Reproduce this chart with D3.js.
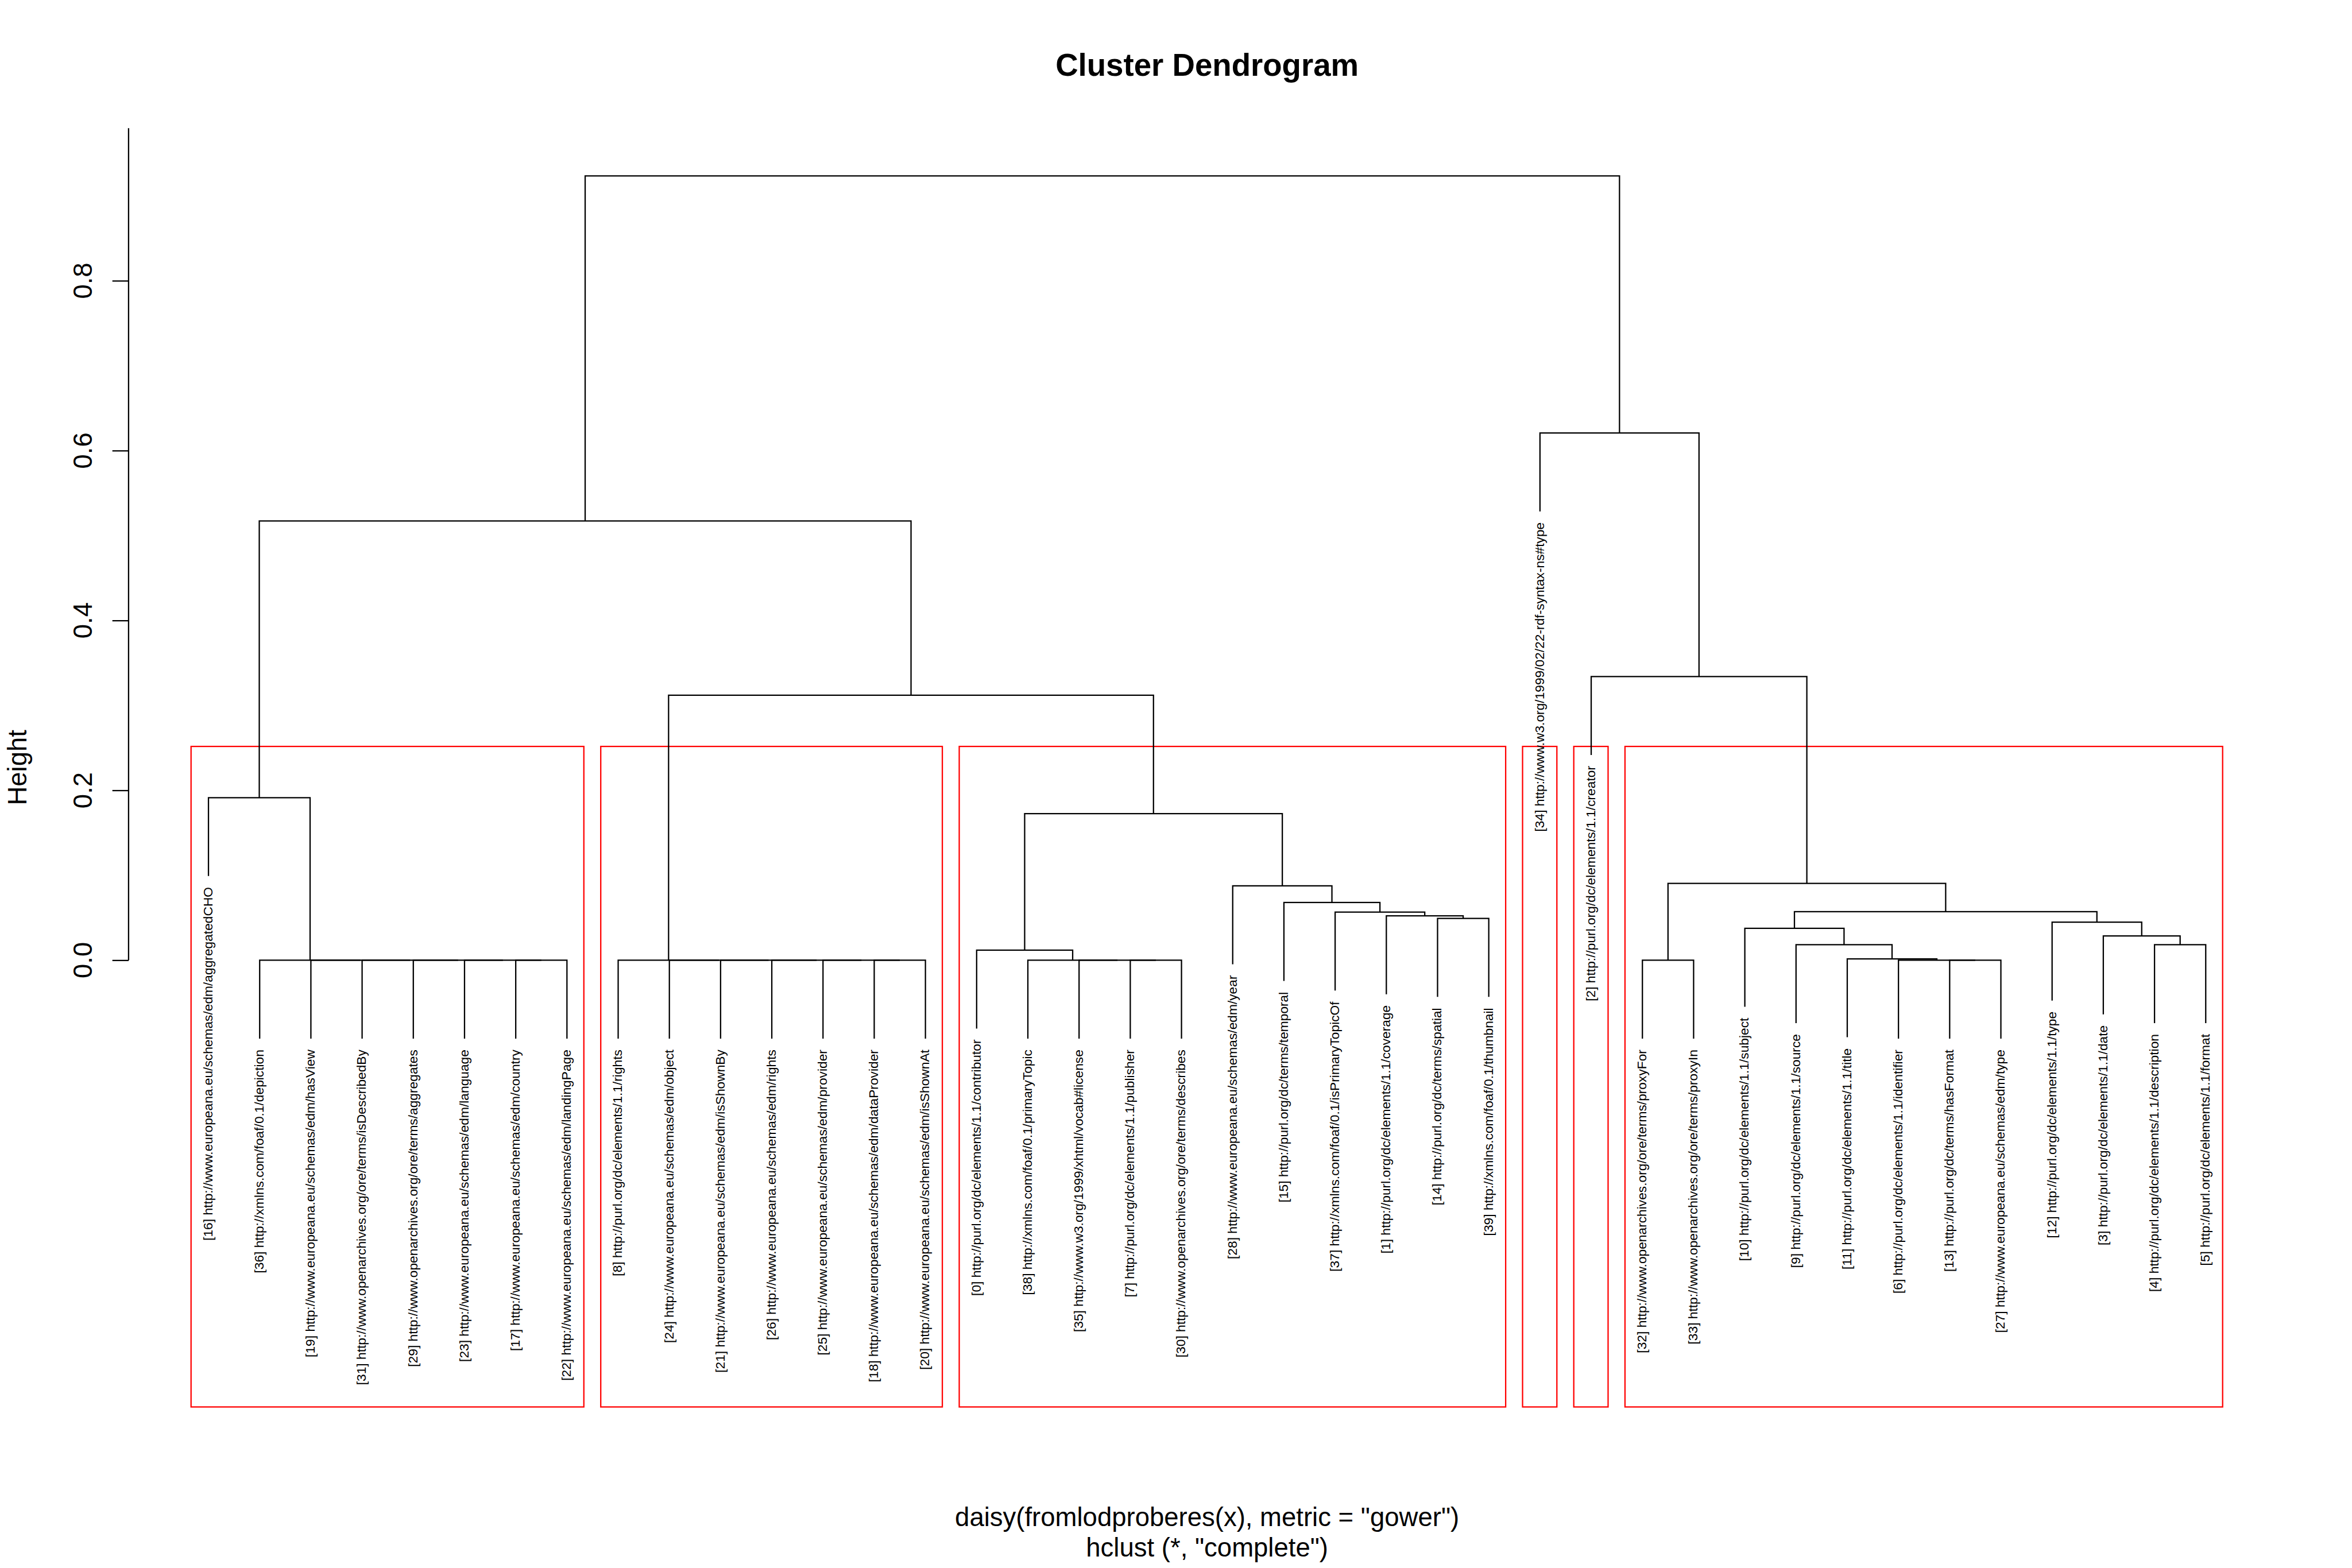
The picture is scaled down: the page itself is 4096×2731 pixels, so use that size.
<!DOCTYPE html>
<html><head><meta charset="utf-8">
<script src="https://cdn.jsdelivr.net/npm/d3@7"></script>
<style>body{margin:0;background:#fff}svg{display:block}</style>
</head><body>
<script>
// ---------- data ----------
const leafLabels = [
"[16] http://www.europeana.eu/schemas/edm/aggregatedCHO",
"[36] http://xmlns.com/foaf/0.1/depiction",
"[19] http://www.europeana.eu/schemas/edm/hasView",
"[31] http://www.openarchives.org/ore/terms/isDescribedBy",
"[29] http://www.openarchives.org/ore/terms/aggregates",
"[23] http://www.europeana.eu/schemas/edm/language",
"[17] http://www.europeana.eu/schemas/edm/country",
"[22] http://www.europeana.eu/schemas/edm/landingPage",
"[8] http://purl.org/dc/elements/1.1/rights",
"[24] http://www.europeana.eu/schemas/edm/object",
"[21] http://www.europeana.eu/schemas/edm/isShownBy",
"[26] http://www.europeana.eu/schemas/edm/rights",
"[25] http://www.europeana.eu/schemas/edm/provider",
"[18] http://www.europeana.eu/schemas/edm/dataProvider",
"[20] http://www.europeana.eu/schemas/edm/isShownAt",
"[0] http://purl.org/dc/elements/1.1/contributor",
"[38] http://xmlns.com/foaf/0.1/primaryTopic",
"[35] http://www.w3.org/1999/xhtml/vocab#license",
"[7] http://purl.org/dc/elements/1.1/publisher",
"[30] http://www.openarchives.org/ore/terms/describes",
"[28] http://www.europeana.eu/schemas/edm/year",
"[15] http://purl.org/dc/terms/temporal",
"[37] http://xmlns.com/foaf/0.1/isPrimaryTopicOf",
"[1] http://purl.org/dc/elements/1.1/coverage",
"[14] http://purl.org/dc/terms/spatial",
"[39] http://xmlns.com/foaf/0.1/thumbnail",
"[34] http://www.w3.org/1999/02/22-rdf-syntax-ns#type",
"[2] http://purl.org/dc/elements/1.1/creator",
"[32] http://www.openarchives.org/ore/terms/proxyFor",
"[33] http://www.openarchives.org/ore/terms/proxyIn",
"[10] http://purl.org/dc/elements/1.1/subject",
"[9] http://purl.org/dc/elements/1.1/source",
"[11] http://purl.org/dc/elements/1.1/title",
"[6] http://purl.org/dc/elements/1.1/identifier",
"[13] http://purl.org/dc/terms/hasFormat",
"[27] http://www.europeana.eu/schemas/edm/type",
"[12] http://purl.org/dc/elements/1.1/type",
"[3] http://purl.org/dc/elements/1.1/date",
"[4] http://purl.org/dc/elements/1.1/description",
"[5] http://purl.org/dc/elements/1.1/format"
];
// merges: negative = leaf (1-based display position), positive = earlier merge (1-based)
const mergeLeft  = [-7,-6,-5,-4,-3,-2,-1, -14,-13,-12,-11,-10,-9, -19,-18,-17,-16, -25,-24,-23,-22,-21, 17, 13, 7, -29,-35,-34,-33,-32,-31,-39,-38,-37, 31, 26, -28, -27, 25];
const mergeRight = [-8, 1, 2, 3, 4, 5, 6, -15,  8,  9, 10, 11,12, -20, 14, 15, 16, -26, 18, 19, 20, 21, 22, 23, 24, -30,-36, 27, 28, 29, 30,-40, 32, 33, 34, 35,  36,  37, 38];
const mergeHeight= [0,0,0,0,0,0,0.1914, 0,0,0,0,0,0, 0,0,0,0.0119, 0.0492,0.0523,0.0566,0.0679,0.0876, 0.1725, 0.3120, 0.5171, 0,0,0,0.0016,0.0183,0.0375,0.0183,0.0286,0.0448, 0.0571, 0.0905, 0.3340, 0.6208, 0.9234];
const tickValues = [0, 0.2, 0.4, 0.6, 0.8];
const tickLabels = ["0.0", "0.2", "0.4", "0.6", "0.8"];
const yRange = [-0.526, 0.9797];
const kGroups = 6;
const titleText = "Cluster Dendrogram";
const yLabelText = "Height";
const subLines = ['daisy(fromlodproberes(x), metric = "gower")', 'hclust (*, "complete")'];

// ---------- layout ----------
const W = 4500, H = 3000;
const FONT = "'Liberation Sans', Arial, Helvetica, sans-serif";
const LW = 2.5;
const svg = d3.select("body").append("svg")
  .attr("width", 4096).attr("height", 2731)
  .attr("viewBox", `0 0 ${W} ${H}`);
svg.append("rect").attr("width", W).attr("height", H).attr("fill", "#fff");

const plot = {left: 246, right: 4373, top: 245, bottom: 2692};
const n = leafLabels.length;
const x = d3.scaleLinear().domain([1 - 0.04 * (n - 1), n + 0.04 * (n - 1)]).range([plot.left, plot.right]);
const y = d3.scaleLinear().domain(yRange).range([plot.bottom, plot.top]);
const hang = 0.1 * (d3.max(mergeHeight) - d3.min(mergeHeight));

// compute node positions
const nodeX = [], leafEnd = new Array(n + 1), leafRange = [];
const segs = [];
mergeHeight.forEach((h, i) => {
  const info = c => {
    if (c < 0) { leafEnd[-c] = h - hang; return {x: -c, top: h - hang, lo: -c, hi: -c}; }
    return {x: nodeX[c - 1], top: mergeHeight[c - 1], lo: leafRange[c - 1][0], hi: leafRange[c - 1][1]};
  };
  const l = info(mergeLeft[i]), r = info(mergeRight[i]);
  nodeX[i] = (l.x + r.x) / 2;
  leafRange[i] = [Math.min(l.lo, r.lo), Math.max(l.hi, r.hi)];
  segs.push(`M${x(l.x)},${y(l.top)}V${y(h)}H${x(r.x)}V${y(r.top)}`);
});

// red cluster rectangles (k groups)
const order = d3.range(mergeHeight.length).sort((a, b) => mergeHeight[b] - mergeHeight[a]);
const topSet = new Set(order.slice(0, kGroups - 1));
const groups = [];
topSet.forEach(i => {
  [mergeLeft[i], mergeRight[i]].forEach(c => {
    if (c < 0) groups.push([-c, -c]);
    else if (!topSet.has(c - 1)) groups.push(leafRange[c - 1]);
  });
});
const rectTop = (mergeHeight[order[kGroups - 2]] + mergeHeight[order[kGroups - 1]]) / 2;
svg.append("g").selectAll("rect").data(groups).join("rect")
  .attr("x", d => x(d[0] - 0.34))
  .attr("width", d => x(d[1] + 0.33) - x(d[0] - 0.34))
  .attr("y", y(rectTop))
  .attr("height", y(yRange[0]) - y(rectTop))
  .attr("fill", "none").attr("stroke", "#ff0000").attr("stroke-width", LW);

// dendrogram
svg.append("g").selectAll("path").data(segs).join("path")
  .attr("d", d => d).attr("fill", "none").attr("stroke", "#000")
  .attr("stroke-width", LW).attr("stroke-linecap", "butt").attr("stroke-linejoin", "miter");

// leaf labels
svg.append("g").selectAll("text").data(leafLabels).join("text")
  .attr("transform", (d, i) => `translate(${x(i + 1)},${y(leafEnd[i + 1]) + 21}) rotate(-90)`)
  .attr("text-anchor", "end").attr("dy", "0.3em")
  .attr("font-family", FONT).attr("font-size", 25).attr("fill", "#000")
  .text(d => d);

// y axis
const axisG = svg.append("g").attr("transform", `translate(${plot.left},0)`)
  .call(d3.axisLeft(y).tickValues(tickValues).tickSize(31).tickFormat(""));
axisG.select(".domain").remove();
axisG.selectAll(".tick line").attr("stroke", "#000").attr("stroke-width", LW);
svg.append("line").attr("x1", plot.left).attr("x2", plot.left)
  .attr("y1", y(0)).attr("y2", plot.top)
  .attr("stroke", "#000").attr("stroke-width", LW);
svg.append("g").selectAll("text").data(tickValues).join("text")
  .attr("transform", d => `translate(176,${y(d)}) rotate(-90)`)
  .attr("text-anchor", "middle").attr("font-family", FONT).attr("font-size", 50)
  .text((d, i) => tickLabels[i]);

// titles
svg.append("text").attr("transform", `translate(50,${(plot.top + plot.bottom) / 2}) rotate(-90)`)
  .attr("text-anchor", "middle").attr("font-family", FONT).attr("font-size", 50).text(yLabelText);
svg.append("text").attr("x", (plot.left + plot.right) / 2).attr("y", 145)
  .attr("text-anchor", "middle").attr("font-family", FONT).attr("font-size", 60)
  .attr("font-weight", "bold").text(titleText);
svg.append("g").selectAll("text").data(subLines).join("text")
  .attr("x", (plot.left + plot.right) / 2).attr("y", (d, i) => 2920 + i * 58)
  .attr("text-anchor", "middle").attr("font-family", FONT).attr("font-size", 50)
  .text(d => d);
</script>
</body></html>
